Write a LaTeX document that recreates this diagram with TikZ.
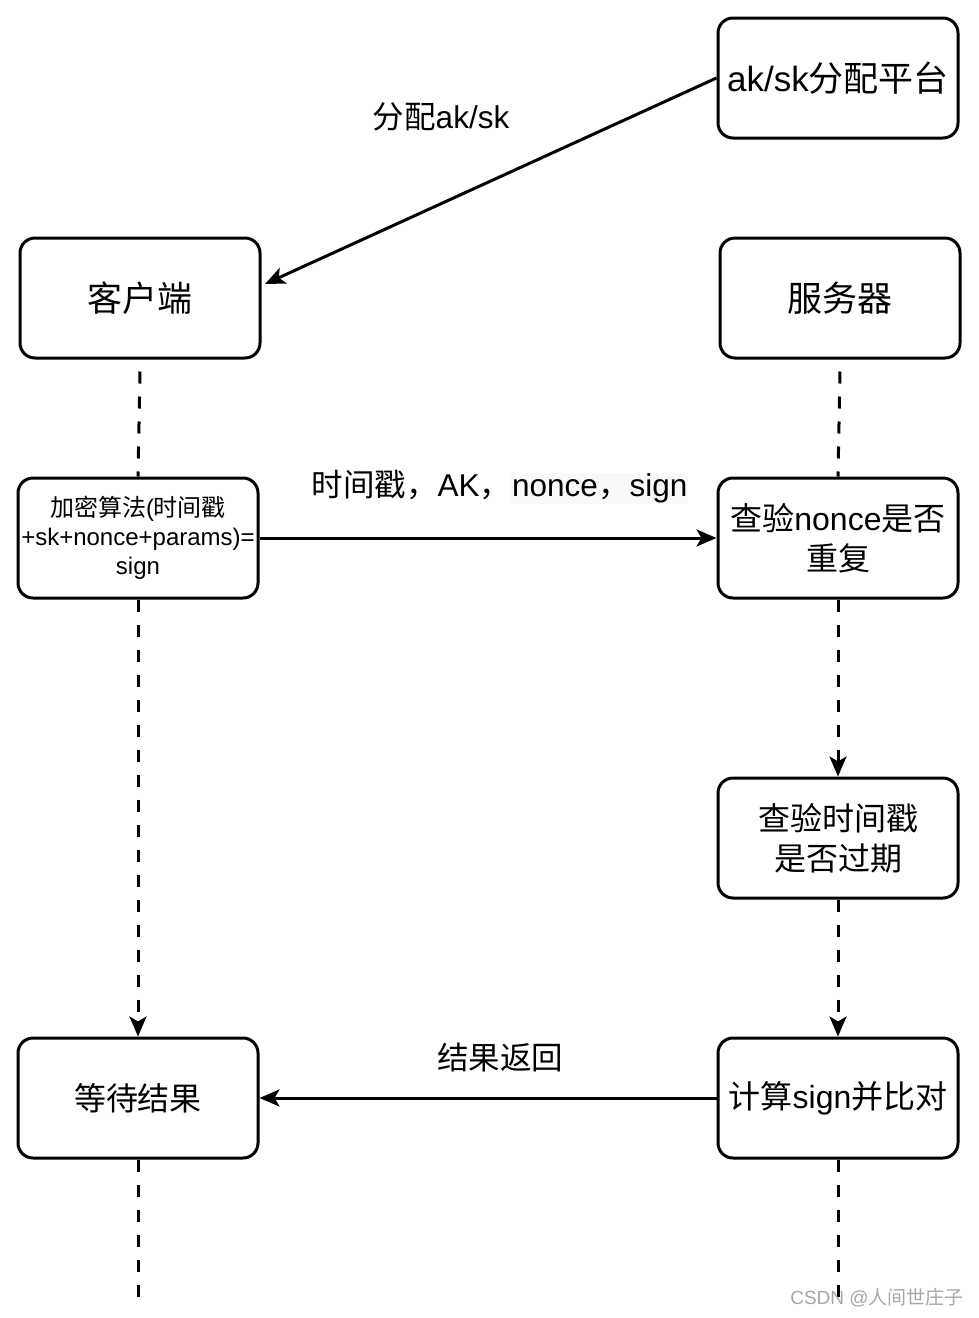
\documentclass[tikz,border=0pt]{standalone}
\usepackage{fontspec}
\setmainfont{Liberation Sans}
\newfontfamily\cjk{Noto Sans CJK SC}
\usetikzlibrary{arrows.meta}
\definecolor{labelBack}{HTML}{F8F9FA}

\begin{document}
\begin{tikzpicture}
[x=1pt,y=-1pt,
  boxDecorate/.style={shape=rectangle,draw,line width=3pt,rounded corners=15pt,
    minimum width=240pt,minimum height=120pt,inner sep=2pt,align=center,
    font=\fontsize{32}{40}\selectfont},%
  arrowDecorate/.style={line width=3pt,-{Stealth[length=20pt,width=17pt,inset=5pt]}},%
  dashDecorate/.style={line width=3pt,dash pattern=on 12pt off 13pt},%
  labelDecorate/.style={font=\fontsize{31.5}{36}\selectfont,inner sep=0pt}]
\useasboundingbox (0,0) rectangle (978,1318);
%% nodes or boxes
\node (plat) at (838,78) [boxDecorate,font=\fontsize{35}{40}\selectfont] {ak/sk{\cjk 分配平台}};
\node (client) at (140,298) [boxDecorate,font=\fontsize{35}{40}\selectfont] {\cjk 客户端};
\node (server) at (840,298) [boxDecorate,font=\fontsize{35}{40}\selectfont] {\cjk 服务器};
\node (encrypt) at (138,538) [boxDecorate,font=\fontsize{24}{29}\selectfont]
  {{\cjk 加密算法}({\cjk 时间戳}\\+sk+nonce+params)=\\sign};
\node (nonce) at (838,538) [boxDecorate] {{\cjk 查验}nonce{\cjk 是否}\\{\cjk 重复}};
\node (stamp) at (838,838) [boxDecorate] {{\cjk 查验时间戳}\\{\cjk 是否过期}};
\node (wait) at (138,1098) [boxDecorate] {\cjk 等待结果};
\node (verify) at (838,1098) [boxDecorate] {{\cjk 计算}sign{\cjk 并比对}};
%% free ends of the lifelines
\coordinate (clientEnd) at (138,1300);
\coordinate (serverEnd) at (838,1300);
\coordinate (clientHit) at (265,284);
%% messages
\draw[arrowDecorate] (plat.west) -- (clientHit);
\node (distLabel) at (441,117) [labelDecorate] {{\cjk 分配}ak/sk};
\draw[arrowDecorate] (encrypt.east) -- (nonce.west);
\node (sendLabel) at (500,487) [labelDecorate]
  {{\cjk 时间戳，}AK{\cjk ，}\setlength\fboxsep{1pt}\colorbox{labelBack}{nonce{\cjk ，}sign}};
\draw[arrowDecorate] (verify.west) -- (wait.east);
\node (backLabel) at (500,1057) [labelDecorate] {\cjk 结果返回};
%% lifelines
\foreach \startnode/\endnode in {client/encrypt, server/nonce}
{
  \draw[dashDecorate] ([yshift=-12pt]\startnode.south) -- (\endnode.north);
}
\foreach \startnode/\endnode in {encrypt/wait, nonce/stamp, stamp/verify}
{
  \draw[dashDecorate,arrowDecorate] (\startnode.south) -- (\endnode.north);
}
\draw[dashDecorate] (wait.south) -- (clientEnd);
\draw[dashDecorate] (verify.south) -- (serverEnd);
%% watermark
\node (mark) at (877,1298) [text=gray!70,font=\fontsize{19}{22}\selectfont,inner sep=0pt]
  {CSDN @{\cjk 人间世庄子}};
\end{tikzpicture}
\end{document}
